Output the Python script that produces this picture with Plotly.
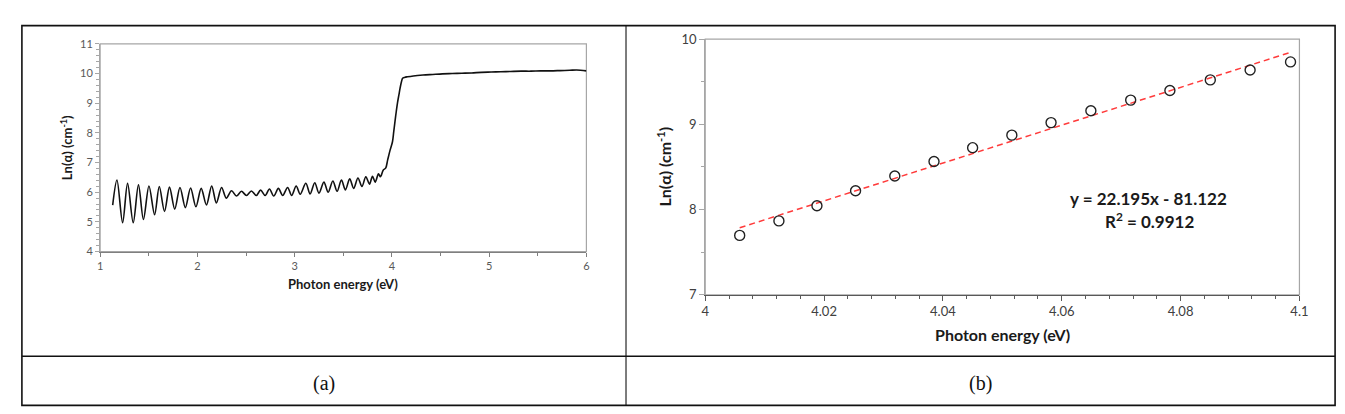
import plotly.graph_objects as go

W, H = 1345, 414

# ---------------- data: panel (a) ----------------
energy_a = [1.129, 1.173, 1.231, 1.282, 1.340, 1.394, 1.445, 1.502, 1.560, 1.608,
            1.662, 1.713, 1.767, 1.821, 1.876, 1.930, 1.985, 2.039, 2.093, 2.147,
            2.195, 2.249, 2.297, 2.351, 2.402, 2.453, 2.504, 2.555, 2.606, 2.650,
            2.697, 2.741, 2.785, 2.833, 2.877, 2.928, 2.969, 3.016, 3.057, 3.115,
            3.159, 3.207, 3.250, 3.301, 3.345, 3.393, 3.437, 3.481, 3.522, 3.566,
            3.607, 3.651, 3.692, 3.732, 3.770, 3.800, 3.828, 3.862, 3.882, 3.912,
            3.936, 3.956, 3.980, 4.006, 4.019, 4.032, 4.045, 4.058, 4.072, 4.085,
            4.099, 4.110, 4.130, 4.160, 4.220, 4.320, 4.420, 4.520, 4.620, 4.720,
            4.820, 4.920, 5.020, 5.120, 5.220, 5.330, 5.430, 5.530, 5.630, 5.730,
            5.830, 5.900, 6.000]
ln_alpha_a = [5.565, 6.41, 4.97, 6.30, 4.97, 6.25, 5.08, 6.21, 5.24, 6.19,
              5.35, 6.17, 5.43, 6.16, 5.48, 6.14, 5.51, 6.13, 5.57, 6.21,
              5.64, 6.16, 5.80, 6.05, 5.87, 6.03, 5.89, 6.04, 5.89, 6.07,
              5.89, 6.11, 5.87, 6.13, 5.89, 6.16, 5.89, 6.21, 5.93, 6.30,
              5.94, 6.32, 5.97, 6.34, 6.00, 6.38, 6.03, 6.41, 6.08, 6.45,
              6.13, 6.48, 6.19, 6.52, 6.27, 6.54, 6.34, 6.62, 6.52, 6.75,
              6.81, 7.08, 7.40, 7.70, 8.04, 8.39, 8.72, 9.02, 9.28, 9.52,
              9.73, 9.84, 9.87, 9.89, 9.92, 9.95, 9.97, 9.99, 10.00, 10.01,
              10.02, 10.04, 10.05, 10.06, 10.07, 10.08, 10.08, 10.09, 10.09, 10.10,
              10.11, 10.12, 10.09]

# ---------------- data: panel (b) ----------------
energy_b = [4.0058, 4.0124, 4.0188, 4.0253, 4.0319, 4.0385, 4.0450, 4.0516,
            4.0582, 4.0649, 4.0716, 4.0782, 4.0850, 4.0917, 4.0985]
ln_alpha_b = [7.697, 7.867, 8.044, 8.221, 8.394, 8.564, 8.726, 8.873,
              9.020, 9.159, 9.284, 9.397, 9.521, 9.638, 9.732]
fit_slope = 22.195
fit_intercept = -81.122
fit_r2 = 0.9912

xticks_b = [4.0, 4.02, 4.04, 4.06, 4.08, 4.1]
xticklabels_b = ["4", "4.02", "4.04", "4.06", "4.08", "4.1"]
panel_labels = ["(a)", "(b)"]


def px(x):
    return x / W


def py(y):
    return 1 - y / H


fig = go.Figure()

fig.add_trace(go.Scatter(
    x=energy_a, y=ln_alpha_a, mode="lines",
    line=dict(color="#111111", width=1.6, shape="spline", smoothing=0.9),
    xaxis="x", yaxis="y", showlegend=False, hoverinfo="skip"))

fit_x = [energy_b[0], energy_b[-1]]
fit_y = [fit_slope * v + fit_intercept for v in fit_x]
fig.add_trace(go.Scatter(
    x=fit_x, y=fit_y, mode="lines",
    line=dict(color="#ff3b3b", width=1.5, dash="6px,4px"),
    xaxis="x2", yaxis="y2", showlegend=False))

fig.add_trace(go.Scatter(
    x=energy_b, y=ln_alpha_b, mode="markers",
    marker=dict(symbol="circle-open", size=10, color="#222222", line=dict(width=1.4)),
    xaxis="x2", yaxis="y2", showlegend=False))

tick_font_a = dict(family="Lato, Open Sans, sans-serif", size=11, color="#595959")
tick_font_b = dict(family="Lato, Open Sans, sans-serif", size=13, color="#404040")

fig.update_layout(
    width=W, height=H,
    margin=dict(l=0, r=0, t=0, b=0),
    paper_bgcolor="white", plot_bgcolor="white",
    xaxis=dict(domain=[px(89), px(580)], range=[1, 6], dtick=1, tick0=1,
               showgrid=False, zeroline=False,
               showline=True, linecolor="#7f7f7f", linewidth=1.2,
               ticks="outside", ticklen=4, tickcolor="#7f7f7f",
               minor=dict(dtick=0.5, ticks="outside", ticklen=3, tickcolor="#7f7f7f"),
               tickfont=tick_font_a, anchor="y"),
    yaxis=dict(domain=[py(245), py(29)], range=[4, 11], dtick=1, tick0=4,
               showgrid=False, zeroline=False,
               showline=True, linecolor="#a6a6a6", linewidth=1.2,
               ticks="outside", ticklen=4, tickcolor="#a6a6a6",
               minor=dict(dtick=0.2, ticks="outside", ticklen=3, tickcolor="#a6a6a6"),
               tickfont=tick_font_a, anchor="x"),
    xaxis2=dict(domain=[px(700), px(1300)], range=[4, 4.1],
                tickvals=xticks_b, ticktext=xticklabels_b,
                showgrid=False, zeroline=False,
                showline=True, linecolor="#595959", linewidth=1.2,
                ticks="outside", ticklen=5, tickcolor="#595959",
                minor=dict(dtick=0.004, tick0=4, ticks="outside", ticklen=3, tickcolor="#595959"),
                tickfont=tick_font_b, anchor="y2"),
    yaxis2=dict(domain=[py(290), py(24)], range=[7, 10], dtick=1, tick0=7,
                showgrid=False, zeroline=False,
                showline=True, linecolor="#a6a6a6", linewidth=1.2,
                ticks="outside", ticklen=5, tickcolor="#a6a6a6",
                minor=dict(dtick=0.5, ticks="outside", ticklen=3, tickcolor="#a6a6a6"),
                tickfont=tick_font_b, anchor="x2"),
)

shapes = []
# plot frames (top / right sides)
for xr, yr in (("x domain", "y domain"), ("x2 domain", "y2 domain")):
    shapes.append(dict(type="rect", xref=xr, yref=yr, x0=0, x1=1, y0=0, y1=1,
                       line=dict(color="#a6a6a6", width=1.2), layer="below"))
# table borders
line_k = dict(color="#111111", width=1.6)
shapes.append(dict(type="rect", xref="paper", yref="paper",
                   x0=px(10), x1=px(1336), y0=py(405), y1=py(10), line=line_k))
shapes.append(dict(type="line", xref="paper", yref="paper",
                   x0=px(620), x1=px(620), y0=py(405), y1=py(10),
                   line=dict(color="#111111", width=1.1)))
shapes.append(dict(type="line", xref="paper", yref="paper",
                   x0=px(10), x1=px(1336), y0=py(354), y1=py(354), line=line_k))
fig.update_layout(shapes=shapes)

title_font_a = dict(family="Lato, Open Sans, sans-serif", size=13, color="#1a1a1a")
title_font_b = dict(family="Lato, Open Sans, sans-serif", size=16, color="#1a1a1a")
eq_font = dict(family="Lato, Open Sans, sans-serif", size=17, color="#1a1a1a")
ann = []
ann.append(dict(x=px(334), y=py(279), xref="paper", yref="paper", showarrow=False,
                text="<b>Photon energy (eV)</b>", font=title_font_a,
                xanchor="center", yanchor="middle"))
ann.append(dict(x=px(55), y=py(137), xref="paper", yref="paper", showarrow=False,
                text="<b>Ln(α) (cm<sup>-1</sup>)</b>", font=title_font_a, textangle=-90,
                xanchor="center", yanchor="middle"))
ann.append(dict(x=px(1000), y=py(331), xref="paper", yref="paper", showarrow=False,
                text="<b>Photon energy (eV)</b>", font=title_font_b,
                xanchor="center", yanchor="middle"))
ann.append(dict(x=px(659), y=py(157), xref="paper", yref="paper", showarrow=False,
                text="<b>Ln(α) (cm<sup>-1</sup>)</b>", font=title_font_b, textangle=-90,
                xanchor="center", yanchor="middle"))
ann.append(dict(x=px(1148), y=py(190), xref="paper", yref="paper", showarrow=False,
                text="<b>y = %.3fx - %.3f</b>" % (fit_slope, -fit_intercept),
                font=eq_font, xanchor="center", yanchor="middle"))
ann.append(dict(x=px(1149), y=py(213), xref="paper", yref="paper", showarrow=False,
                text="<b>R<sup>2</sup> = %.4f</b>" % fit_r2,
                font=eq_font, xanchor="center", yanchor="middle"))
label_font = dict(family="Liberation Serif, DejaVu Serif, serif", size=20, color="#111111")
for cx, lab in zip((315, 978), panel_labels):
    ann.append(dict(x=px(cx), y=py(382), xref="paper", yref="paper", showarrow=False,
                    text=lab, font=label_font, xanchor="center", yanchor="middle"))
fig.update_layout(annotations=ann)

fig.write_html("out.html")
